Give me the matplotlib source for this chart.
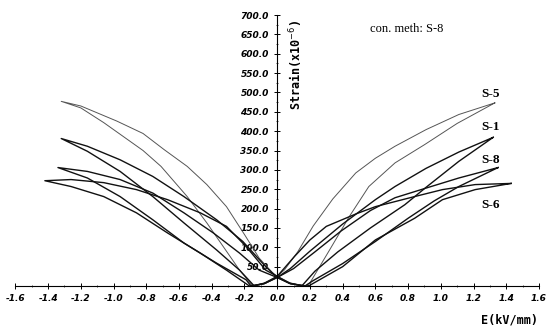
import numpy as np
import matplotlib.pyplot as plt
from matplotlib.ticker import MultipleLocator

# butterfly loops: E (kV/mm), strain (x1e-6)
# order: +tip -> right outer -> origin -> left inner -> -tip -> left outer -> origin -> right inner -> +tip
s5_E = [1.33, 1.11, 0.91, 0.72, 0.60, 0.48, 0.34, 0.22, 0.125, 0.045, 0.0, -0.08, -0.15,
        -0.23, -0.33, -0.43, -0.55, -0.71, -0.82, -1.06, -1.20, -1.32,
        -1.20, -0.98, -0.82, -0.69, -0.55, -0.43, -0.31, -0.20, -0.11, -0.03, 0.0, 0.08, 0.17,
        0.20, 0.32, 0.44, 0.56, 0.72, 0.90, 1.10, 1.33]
s5_S = [473, 443, 404, 361, 330, 292, 225, 155, 88, 42, 25, 8, 0,
        41, 102, 163, 231, 309, 350, 422, 460, 477,
        465, 426, 394, 352, 309, 262, 205, 133, 72, 35, 25, 8, 0,
        8, 93, 179, 257, 318, 365, 420, 473]

s1_E = [1.32, 1.11, 0.91, 0.72, 0.60, 0.40, 0.20, 0.08, 0.0, -0.07, -0.14,
        -0.23, -0.37, -0.57, -0.76, -0.96, -1.16, -1.32,
        -1.16, -0.96, -0.76, -0.57, -0.37, -0.21, -0.07, 0.0, 0.07, 0.15,
        0.23, 0.37, 0.57, 0.78, 0.91, 1.11, 1.32]
s1_S = [384, 346, 304, 257, 223, 160, 90, 45, 22, 8, 0,
        41, 93, 163, 231, 296, 348, 381,
        361, 326, 283, 231, 171, 115, 50, 22, 8, 0,
        38, 88, 150, 210, 255, 322, 384]

s8_E = [1.35, 1.11, 0.91, 0.72, 0.57, 0.39, 0.23, 0.10, 0.0, -0.08, -0.16,
        -0.19, -0.37, -0.57, -0.76, -0.96, -1.16, -1.34,
        -1.16, -0.96, -0.76, -0.57, -0.39, -0.23, -0.11, 0.0, 0.08, 0.17,
        0.22, 0.40, 0.60, 0.80, 0.96, 1.11, 1.35]
s8_S = [306, 279, 253, 228, 195, 142, 88, 45, 22, 6, 0,
        16, 59, 111, 171, 231, 279, 306,
        296, 275, 240, 189, 137, 85, 41, 22, 6, 0,
        14, 58, 115, 175, 220, 257, 306]

s6_E = [1.43, 1.21, 1.01, 0.83, 0.60, 0.48, 0.30, 0.20, 0.105, 0.0, -0.08, -0.17,
        -0.31, -0.47, -0.67, -0.86, -1.06, -1.26, -1.42,
        -1.26, -1.06, -0.86, -0.67, -0.47, -0.31, -0.19, -0.07, 0.0, 0.08, 0.18,
        0.20, 0.40, 0.60, 0.84, 1.01, 1.21, 1.43]
s6_S = [265, 262, 249, 230, 205, 186, 154, 119, 76, 25, 6, 0,
        41, 85, 137, 189, 231, 257, 272,
        275, 267, 249, 223, 189, 154, 102, 41, 25, 6, 0,
        2, 50, 119, 175, 223, 249, 265]

labels = ["S-5", "S-1", "S-8", "S-6"]
label_y = [495, 412, 326, 210]
x_ticks = [-1.6, -1.4, -1.2, -1.0, -0.8, -0.6, -0.4, -0.2, 0.0, 0.2, 0.4, 0.6, 0.8, 1.0, 1.2, 1.4, 1.6]
y_ticks = [50, 100, 150, 200, 250, 300, 350, 400, 450, 500, 550, 600, 650, 700]

fig = plt.figure(figsize=(5.5, 3.3), dpi=100)
ax = fig.add_axes([0.028, 0.1333, 0.952, 0.8212])

ax.plot(s5_E, s5_S, color="#555555", lw=0.7)
ax.plot(s1_E, s1_S, color="#111111", lw=1.0)
ax.plot(s8_E, s8_S, color="#111111", lw=1.0)
ax.plot(s6_E, s6_S, color="#111111", lw=1.0)

ax.set_xlim(-1.6, 1.6)
ax.set_ylim(0, 700)
ax.spines["left"].set_position(("data", 0))
ax.spines["bottom"].set_position(("data", 0))
for sp in ("top", "right"):
    ax.spines[sp].set_visible(False)
ax.spines["left"].set_linewidth(0.8)
ax.spines["bottom"].set_linewidth(0.8)

ax.set_xticks(x_ticks)
ax.set_xticklabels(["%.1f" % v for v in x_ticks])
ax.set_yticks(y_ticks)
ax.set_yticklabels(["%.1f" % v for v in y_ticks])
ax.xaxis.set_minor_locator(MultipleLocator(0.1))
ax.yaxis.set_minor_locator(MultipleLocator(25))
ax.tick_params(which="major", direction="inout", length=4, width=0.7, pad=4)
ax.tick_params(which="minor", direction="inout", length=2, width=0.5)
for t in ax.get_xticklabels() + ax.get_yticklabels():
    t.set_fontsize(6.5)
    t.set_fontstyle("italic")
    t.set_fontweight("bold")

ax.text(0.115, 572, "Strain(x10$^{-6}$)", rotation=90, ha="center", va="center",
        fontsize=8.5, fontweight="bold", family="DejaVu Sans Mono")
fig.text(0.927, 0.03, "E(kV/mm)", ha="center", va="center",
         fontsize=8.5, fontweight="bold", family="DejaVu Sans Mono")
ax.text(0.79, 663, "con. meth: S-8", ha="center", va="center",
        fontsize=9, family="Liberation Serif")
for lab, yy in zip(labels, label_y):
    ax.text(1.245, yy, lab, ha="left", va="center", fontsize=9.5,
            fontweight="bold", family="Liberation Serif")

fig.savefig("out.png", dpi=100)
